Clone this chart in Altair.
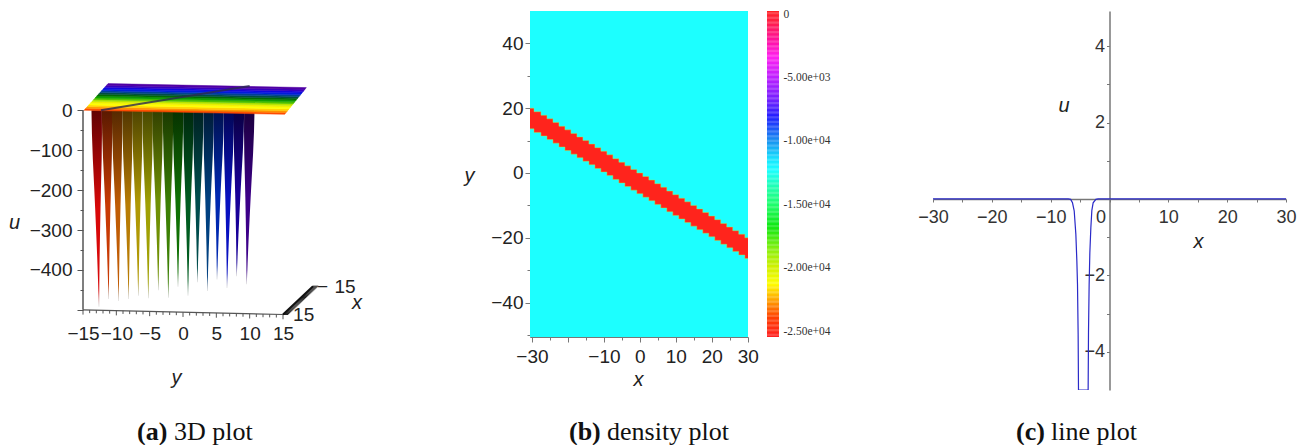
import altair as alt
import numpy as np
import pandas as pd

SANS = "Liberation Sans"
SERIF = "Liberation Serif"

# ---------- panel (a) values
spike_tip_y = [-12.6, -11.15, -9.65, -8.15, -6.7, -5.2, -3.7, -2.2, -0.75, 0.75, 2.15, 3.65, 5.1, 6.6, 8.05, 9.55]
spike_top_y = [-12.95, -11.4, -9.9, -8.35, -6.85, -5.3, -3.8, -2.25, -0.75, 0.8, 2.3, 3.85, 5.35, 6.9, 8.4, 9.95]
spike_tip_u = [-492, -473, -478, -473, -465, -471, -451, -470, -442, -465, -431, -453, -424, -445, -416, -436]
spike_colors = ["#d80808", "#c83a04", "#c05c04", "#b87c04", "#b09804", "#a0a004", "#709004", "#3c8004",
                "#107004", "#005c20", "#004c4c", "#004080", "#0028b0", "#0810c0", "#180098", "#3c0088"]
spike_depth = [0.0, 0.12, 0.25, 0.4, 0.5, 0.62, 0.75, 0.88, 1.0]
spike_halfwidth = [0.78, 0.75, 0.66, 0.5, 0.4, 0.29, 0.18, 0.09, 0.02]
plane_left = [(-14.85, 0), (-11.24, 67)]
plane_right = [(15.25, -10), (18.5, 57)]
plane_colors = ["#ff4a00", "#ff9000", "#ffd000", "#ffff00", "#f0f000", "#b8e400", "#50c000", "#10a000", "#006c00",
                "#005040", "#004490", "#0020d8", "#1008e0", "#3800c0", "#5000a4"]
ridge_y = [-12.3, 10.0]
ridge_u = [0, 61]
u_ticks = list(range(-500, 1, 50))
y3_ticks = list(range(-15, 16))
y3_labels = [-15, -10, -5, 0, 5, 10, 15]

# ---------- panel (b) values
band_x = [-30.55, -28.33, -26.67, -25, -23.33, -21.67, -20, -18.33, -16.67, -15, -13.33, -11.67, -10, -8.33,
          -6.67, -5, -3.33, -1.67, 0, 1.67, 3.33, 5, 6.67, 8.33, 10, 11.67, 13.33, 15, 16.67, 18.33, 20, 21.67,
          23.33, 25, 26.67, 28.33, 30.08]
band_top = [20, 18.9, 17.8, 16.7, 15.6, 14.4, 13.3, 12.2, 11.1, 10, 8.9, 7.8, 6.7, 5.6, 4.4, 3.3, 2.2, 1.1, 0,
            -1.1, -2.2, -3.3, -4.4, -5.6, -6.7, -7.8, -8.9, -10, -11.1, -12.2, -13.3, -14.4, -15.6, -16.7,
            -17.8, -18.9, -20]
band_bot = [13.6, 12.5, 11.4, 10.3, 9.2, 8, 6.9, 5.8, 4.7, 3.6, 2.5, 1.4, 0.3, -0.8, -2, -3.1, -4.2, -5.3, -6.4,
            -7.5, -8.6, -9.7, -10.8, -12, -13.1, -14.2, -15.3, -16.4, -17.5, -18.6, -19.7, -20.8, -22, -23.1,
            -24.2, -25.3, -26.4]
field_value = -12380
band_value = -25260
cbar_stops = [237, -552, -2130, -3444, -4970, -6860, -8176, -10017, -11595, -12380, -13700, -15010, -16850,
              -18700, -20000, -21320, -22640, -23950, -25473]
cbar_colors = ["#ff2020", "#ff2040", "#ff10a0", "#ff20f0", "#c020ff", "#7020ff", "#2020ff", "#1890f0", "#18e8ff",
               "#1cffff", "#20ffb0", "#20ff70", "#10e810", "#90f010", "#d0f000", "#ffff00", "#ffa000", "#ff4000",
               "#ff2020"]
cbar_ticks = [0, -5000, -10000, -15000, -20000, -25000]
bx_ticks = list(range(-30, 31, 5))
by_ticks = list(range(-50, 50, 10))

# ---------- panel (c) values
curve_x = [-30, -7.0, -6.6, -6.29, -6.0, -5.72, -5.55, -5.44, -5.33, -5.27,
           -3.63, -3.57, -3.46, -3.34, -3.17, -3.0, -2.78, -2.32, -1.93, 30]
curve_u = [0, 0, -0.01, -0.1, -0.31, -0.92, -1.62, -2.23, -3.54, -5.0,
           -5.0, -3.5, -2.23, -1.4, -0.75, -0.3, -0.1, -0.01, 0, 0]
cx_ticks = list(range(-30, 31, 5))
cu_ticks = [-4, -3, -2, -1, 1, 2, 3, 4]

# ---------- captions
cap_bold = ["(a)", "(b)", "(c)"]
cap_text = ["3D plot", "density plot", "line plot"]

AXC = "#555555"
TXT = "#222222"
minus = "replace(format(datum.value,'d'),'-','\u2212\u2004')"

title_style = dict(titleFont=SANS, titleFontStyle="italic", titleFontWeight="normal", titleFontSize=20,
                   titleColor=TXT, titleBaseline="middle")
label_style = dict(labelFont=SANS, labelOverlap=False, labelBound=False, labelFlush=False)

# ================= panel (a)
A_W, A_H = 428, 306
xa = alt.Scale(domain=[-15, 49.2], nice=False, zero=False)
ya = alt.Scale(domain=[-518, 249], nice=False, zero=False)
ax_xa = alt.Axis(title="y", titleX=93, titleY=60, values=y3_labels, domain=False, ticks=False,
                 labelFontSize=19, labelColor=TXT, labelPadding=7, labelExpr=minus, **title_style, **label_style)
ax_ya = alt.Axis(title="u", titleAngle=0, titleX=-69, titleY=211, values=u_ticks, domain=False, tickColor=AXC,
                 tickSize={"condition": {"test": "datum.value % 100 == 0", "value": 6}, "value": 3},
                 labelFontSize=19, labelColor=TXT, labelPadding=5,
                 labelExpr="datum.value % 100 == 0 && datum.value > -500 ? " + minus + " : ''",
                 **title_style, **label_style)
X_A = lambda f="y": alt.X(f"{f}:Q", scale=xa, axis=ax_xa)
Y_A = lambda f="u": alt.Y(f"{f}:Q", scale=ya, axis=ax_ya)

a_layers = []
a_layers.append(alt.Chart(pd.DataFrame({"y": [-15, -15], "u": [0, -500]})).mark_line(
    color=AXC, strokeWidth=1.5).encode(x=X_A("y"), y=Y_A("u")))

# spikes
for i, (top, tip, tu, col) in enumerate(zip(spike_top_y, spike_tip_y, spike_tip_u, spike_colors)):
    d = np.array(spike_depth)
    hw = np.array(spike_halfwidth)
    cen = top + (tip - top) * d
    df = pd.DataFrame({"u": tu * d, "l": cen - hw, "r": cen + hw})
    r, g, b = int(col[1:3], 16), int(col[3:5], 16), int(col[5:7], 16)
    dark = f"rgb({int(r*.45)},{int(g*.45)},{int(b*.45)})"
    a_layers.append(alt.Chart(df).mark_area(
        orient="horizontal",
        fill=alt.Gradient(gradient="linear", x1=0, x2=0, y1=0, y2=1,
                          stops=[alt.GradientStop(color=dark, offset=0),
                                 alt.GradientStop(color=col, offset=0.5),
                                 alt.GradientStop(color=col, offset=0.92),
                                 alt.GradientStop(color="#aaaaaa", offset=1)])
    ).encode(y=Y_A("u"), x=X_A("l"), x2="r:Q"))

# plane
rows = []
n = len(plane_colors)
(lx0, lu0), (lx1, lu1) = plane_left
(rx0, ru0), (rx1, ru1) = plane_right
for k, col in enumerate(plane_colors):
    t0, t1 = k / n, (k + 1) / n
    a0 = (lx0 + (lx1 - lx0) * t0, lu0 + (lu1 - lu0) * t0)
    a1 = (lx0 + (lx1 - lx0) * t1, lu0 + (lu1 - lu0) * t1)
    b0 = (rx0 + (rx1 - rx0) * t0, ru0 + (ru1 - ru0) * t0)
    b1 = (rx0 + (rx1 - rx0) * t1, ru0 + (ru1 - ru0) * t1)
    low = lambda x: np.interp(x, [a0[0], b0[0]], [a0[1], b0[1]])
    upp = lambda x: np.interp(x, [a1[0], b1[0]], [a1[1], b1[1]])
    for x, u, u2 in [(a0[0], a0[1], a0[1]), (a1[0], a1[1], low(a1[0])),
                     (b0[0], upp(b0[0]), b0[1]), (b1[0], b1[1], b1[1])]:
        rows.append({"y": x, "u": float(u), "u2": float(u2), "band": f"{k:02d}"})
band_scale = alt.Scale(domain=[f"{k:02d}" for k in range(n)], range=plane_colors)
a_layers.append(alt.Chart(pd.DataFrame(rows)).mark_area(strokeWidth=0.5).encode(
    x=X_A("y"), y=Y_A("u"), y2="u2:Q",
    color=alt.Color("band:N", scale=band_scale, legend=None),
    stroke=alt.Stroke("band:N", scale=band_scale, legend=None),
))
a_layers.append(alt.Chart(pd.DataFrame({"y": ridge_y, "u": ridge_u})).mark_line(
    color="#2a2a50", strokeWidth=2, opacity=0.8).encode(x=X_A("y"), y=Y_A("u")))

# slanted front axis, with ticks
axis_u = lambda v: -500 + (v + 15) / 30 * (-11.7)
a_layers.append(alt.Chart(pd.DataFrame({"y": [-15, 15], "u": [-500, axis_u(15)]})).mark_line(
    color=AXC, strokeWidth=1.2).encode(x=X_A("y"), y=Y_A("u")))
a_ticks = pd.DataFrame([{"y": v, "u": axis_u(v), "u2": axis_u(v) - (8 if v % 5 else 12)} for v in y3_ticks])
a_layers.append(alt.Chart(a_ticks).mark_rule(color=AXC, strokeWidth=1).encode(x=X_A("y"), y=Y_A("u"), y2="u2:Q"))

# depth axis: a dense run of ticks along a diagonal
dep = pd.DataFrame({"v": y3_ticks})
dep["f"] = (dep.v + 15) / 30
dep["y0"] = 15 + dep.f * 4.5
dep["u0"] = axis_u(15) + dep.f * 71
dep["y1"] = dep.y0 + 0.8
dep["g"] = dep.v.astype(str)
dep_ticks = pd.concat([dep[["y0", "u0", "g"]].rename(columns={"y0": "y", "u0": "u"}),
                       dep[["y1", "u0", "g"]].rename(columns={"y1": "y", "u0": "u"})])
a_layers.append(alt.Chart(dep_ticks).mark_line(color="#222222", strokeWidth=1).encode(
    x=X_A("y"), y=Y_A("u"), detail="g:N"))
a_layers.append(alt.Chart(pd.DataFrame({"y": [15, 19.5], "u": [axis_u(15), axis_u(15) + 71]})).mark_line(
    color="#111111", strokeWidth=2).encode(x=X_A("y"), y=Y_A("u")))
a_txt = pd.DataFrame({"y": [18.1, 23.0], "u": [-512, -443], "t": ["15", "\u2212\u200415"]})
a_layers.append(alt.Chart(a_txt).mark_text(font=SANS, fontSize=19, color=TXT, baseline="middle").encode(
    x=X_A("y"), y=Y_A("u"), text="t:N"))
a_layers.append(alt.Chart(pd.DataFrame({"y": [26.1], "u": [-483], "t": ["x"]})).mark_text(
    font=SANS, fontSize=20, fontStyle="italic", color=TXT, baseline="middle").encode(
    x=X_A("y"), y=Y_A("u"), text="t:N"))
panel_a = alt.layer(*a_layers).properties(width=A_W, height=A_H)

# ================= panel (b)
B_W, B_H = 218, 326
xb = alt.Scale(domain=[-30.55, 30.08], nice=False, zero=False)
yb = alt.Scale(domain=[-50.6, 49.96], nice=False, zero=False)
cs = alt.Scale(domain=cbar_stops, range=cbar_colors, interpolate="rgb")
ax_xb = alt.Axis(title="x", titleX=108, titleY=42, values=bx_ticks, domainColor="#777777", tickColor="#777777",
                 tickSize={"condition": {"test": "datum.value % 10 == 0", "value": 5}, "value": 3},
                 labelFontSize=19, labelColor=TXT, labelPadding=5,
                 labelExpr="datum.value % 10 == 0 && datum.value != -20 ? " + minus + " : ''",
                 **title_style, **label_style)
ax_yb = alt.Axis(title="y", titleAngle=0, titleX=-61, titleY=164, values=by_ticks, domainColor="#777777",
                 tickColor="#777777",
                 tickSize={"condition": {"test": "datum.value % 20 == 0 && abs(datum.value) < 50", "value": 5}, "value": 3},
                 labelFontSize={"condition": {"test": "datum.value % 20 == 0", "value": 19}, "value": 1},
                 labelColor=TXT, labelPadding=2,
                 labelExpr="datum.value % 20 == 0 ? " + minus + " : ''",
                 **title_style, **label_style)
b_bg = alt.Chart(pd.DataFrame({"x": [-30.55], "x2": [30.08], "y": [-50.6], "y2": [49.96], "v": [field_value]})).mark_rect().encode(
    x=alt.X("x:Q", scale=xb, axis=ax_xb), x2="x2:Q",
    y=alt.Y("y:Q", scale=yb, axis=ax_yb), y2="y2:Q",
    color=alt.Color("v:Q", scale=cs, legend=None),
)
bd = pd.DataFrame({"x": band_x, "t": band_top, "b": band_bot, "v": band_value})
b_band = alt.Chart(bd).mark_area(interpolate="step").encode(
    x=alt.X("x:Q", scale=xb, axis=ax_xb), y=alt.Y("t:Q", scale=yb, axis=ax_yb), y2="b:Q",
    color=alt.Color("v:Q", scale=cs, legend=None))
b_e1 = alt.Chart(bd).mark_line(interpolate="step", color="#b8e840", strokeWidth=0.8, opacity=0.55).encode(
    x=alt.X("x:Q", scale=xb, axis=ax_xb), y=alt.Y("t:Q", scale=yb, axis=ax_yb))
b_e2 = alt.Chart(bd).mark_line(interpolate="step", color="#b8e840", strokeWidth=0.8, opacity=0.55).encode(
    x=alt.X("x:Q", scale=xb, axis=ax_xb), y=alt.Y("b:Q", scale=yb, axis=ax_yb))
panel_b = alt.layer(b_bg, b_band, b_e1, b_e2).properties(width=B_W, height=B_H)

# ================= colour bar
levels = np.arange(cbar_stops[-1], cbar_stops[0], 100.0)
cb = pd.DataFrame({"v": levels, "v2": np.minimum(levels + 110.0, cbar_stops[0]), "x": 0, "x2": 12})
panel_bar = alt.Chart(cb).mark_rect().encode(
    x=alt.X("x:Q", scale=alt.Scale(domain=[0, 147], nice=False), axis=None),
    x2="x2:Q",
    y=alt.Y("v:Q", scale=alt.Scale(domain=[cbar_stops[-1], cbar_stops[0]], nice=False, zero=False),
            axis=alt.Axis(title=None, orient="left", values=cbar_ticks, domain=False, ticks=False, labelFont=SERIF,
                          labelFontSize=11.5, labelColor="#333333", labelAlign="left", labelPadding=-16,
                          labelExpr="datum.value == 0 ? '0' : replace(replace(format(datum.value,'.2e'),'e+','e+0'),'\u2212','-')",
                          labelOverlap=False, labelBound=False, labelFlush=False)),
    y2="v2:Q",
    color=alt.Color("v:Q", scale=cs, legend=None),
).properties(width=147, height=B_H)

# ================= panel (c)
C_W, C_H = 353, 379
xc = alt.Scale(domain=[-30, 30], nice=False, zero=False)
yc = alt.Scale(domain=[-5, 4.92], nice=False, zero=False)
panel_c = alt.Chart(pd.DataFrame({"x": curve_x, "u": curve_u, "o": range(len(curve_x))})).mark_line(
    color="#2a2ac8", strokeWidth=1.2, interpolate="linear", clip=True).encode(
    x=alt.X("x:Q", scale=xc, axis=alt.Axis(
        title="x", titleX=265, titleY=42, offset=-191, values=cx_ticks, domainColor="#777777",
        domainWidth=1.5, tickColor="#777777", tickSize=3, labelFontSize=18, labelColor="#333333",
        labelPadding=6,
        labelOffset={"condition": {"test": "datum.value == 0", "value": -9}, "value": 0},
        labelExpr="datum.value % 10 == 0 ? replace(format(datum.value,'d'),'-','-\u2009') : ''",
        **title_style, **label_style)),
    y=alt.Y("u:Q", scale=yc, axis=alt.Axis(
        title="u", titleAngle=0, titleX=-46, titleY=94, offset=-176.5, values=cu_ticks,
        domainColor="#777777", domainWidth=1.5, tickColor="#777777", tickSize=3, labelFontSize=18,
        labelColor="#333333", labelPadding=2,
        labelExpr="datum.value % 2 == 0 ? replace(format(datum.value,'d'),'-','-\u2009') : ''",
        **title_style, **label_style)),
    order=alt.Order("o:Q"),
).properties(width=C_W, height=C_H)

# ================= captions
CAP_W, CAP_H = 1200, 30
xcap = alt.Scale(domain=[0, CAP_W], nice=False)
ycap = alt.Scale(domain=[0, 1], nice=False)
cap1 = pd.DataFrame({"x": [54, 486, 933], "y": 0.5, "t": cap_bold})
cap2 = pd.DataFrame({"x": [91, 524, 968], "y": 0.5, "t": cap_text})
caption = alt.layer(
    alt.Chart(cap1).mark_text(font=SERIF, fontSize=26, fontWeight="bold", align="left", baseline="middle", color="#111111").encode(
        x=alt.X("x:Q", scale=xcap, axis=None), y=alt.Y("y:Q", scale=ycap, axis=None), text="t:N"),
    alt.Chart(cap2).mark_text(font=SERIF, fontSize=26, align="left", baseline="middle", color="#111111").encode(
        x=alt.X("x:Q", scale=xcap, axis=None), y=alt.Y("y:Q", scale=ycap, axis=None), text="t:N"),
).properties(width=CAP_W, height=CAP_H)

row = alt.hconcat(panel_a, panel_b, panel_bar, panel_c, spacing=19, bounds="flush")
chart = alt.vconcat(row, caption, spacing=406, bounds="flush").properties(padding=0).configure_view(stroke=None).configure_axis(grid=False)
chart.save("out.html", embed_options={"renderer": "svg", "actions": False})
